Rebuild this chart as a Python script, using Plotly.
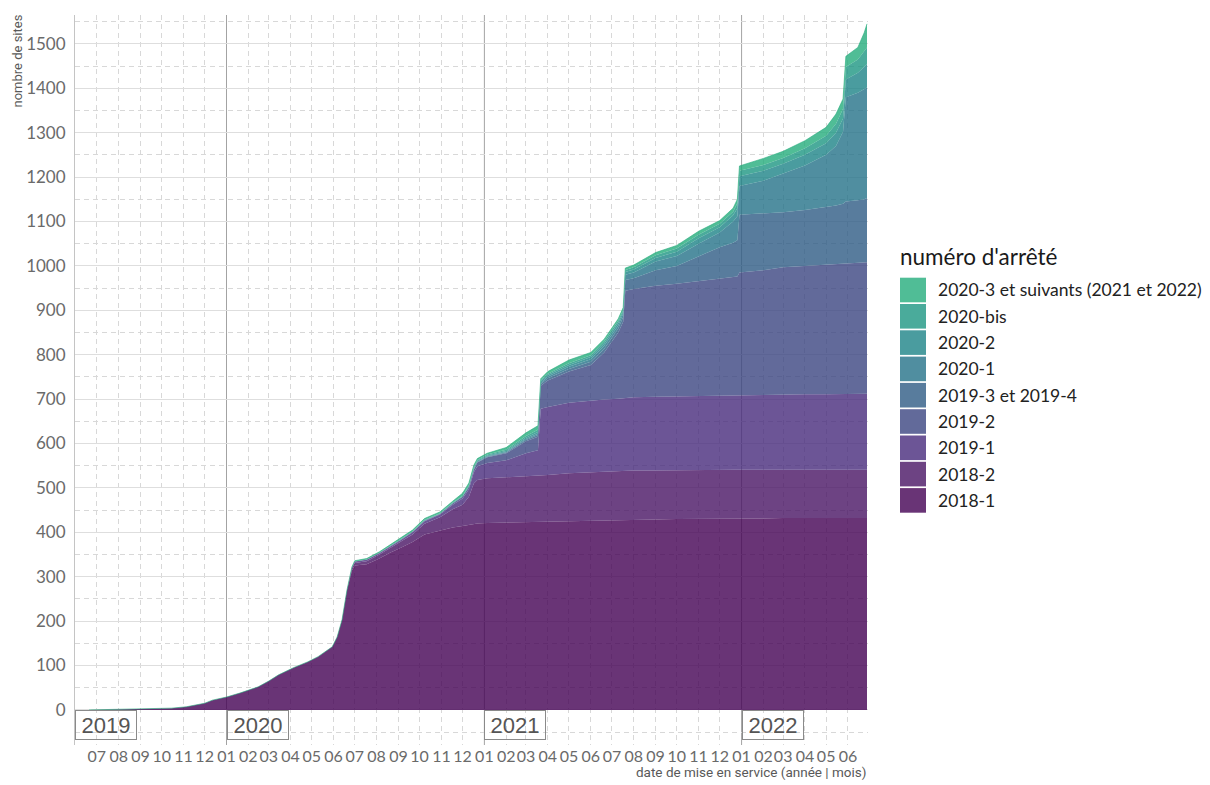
import plotly.graph_objects as go

# ---------------- data ----------------
dates = [
    "2019-06-20", "2019-08-01", "2019-09-15", "2019-10-15", "2019-11-05", "2019-12-01", "2019-12-12",
    "2020-01-01", "2020-01-20", "2020-02-15", "2020-03-01", "2020-03-15", "2020-04-05", "2020-04-25",
    "2020-05-10", "2020-05-30", "2020-06-06", "2020-06-13", "2020-06-20", "2020-06-27", "2020-07-01",
    "2020-07-18", "2020-08-05", "2020-08-20", "2020-09-03", "2020-09-21", "2020-10-08", "2020-10-30",
    "2020-11-17", "2020-12-01", "2020-12-10", "2020-12-17", "2020-12-22", "2021-01-05", "2021-02-01",
    "2021-03-01", "2021-03-18", "2021-03-22", "2021-04-01", "2021-05-01", "2021-06-01", "2021-06-20",
    "2021-07-10", "2021-07-17", "2021-07-20", "2021-08-01", "2021-09-01", "2021-10-01", "2021-11-01",
    "2021-12-01", "2021-12-20", "2021-12-26", "2021-12-29", "2022-02-01", "2022-03-01", "2022-04-01",
    "2022-05-01", "2022-05-15", "2022-05-25", "2022-05-29", "2022-06-15", "2022-06-24", "2022-06-28",
]

# cumulative number of sites (all arrêtés) before the other arrêtés appear
early = [0, 1, 2, 4, 7, 15, 22, 29, 38, 52, 65, 79, 95, 108, 120, 142, 164, 203, 270]

# cumulative top of each band (sites of this arrêté and all earlier ones)
cum_2018_1 = early + [314, 325, 328, 341, 354, 364, 378, 395, 404, 411, 414, 417, 419, 420, 421, 422,
                      423, 424, 424, 425, 426, 427, 427, 428, 428, 428, 429, 429, 430, 430, 431, 431,
                      431, 431, 431, 432, 432, 432, 432, 432, 432, 432, 432, 432]
cum_2018_2 = early + [319, 331, 335, 350, 364, 377, 395, 419, 434, 452, 462, 480, 510, 518, 522, 524,
                      526, 527, 528, 529, 533, 535, 536, 537, 538, 538, 539, 539, 540, 540, 541, 541,
                      541, 541, 541, 541, 541, 541, 541, 541, 541, 541, 541, 541]
cum_2019_1 = early + [321, 334, 338, 353, 367, 381, 400, 425, 440, 462, 476, 497, 535, 549, 556, 562,
                      578, 585, 678, 682, 692, 697, 699, 701, 702, 703, 704, 705, 706, 707, 708, 709,
                      709, 709, 710, 710, 711, 711, 711, 711, 712, 712, 712, 712]
cum_2019_2 = early + [321, 334, 339, 354, 368, 382, 401, 426, 441, 465, 480, 502, 541, 557, 569, 578,
                      605, 615, 730, 742, 762, 777, 805, 850, 874, 944, 948, 955, 960, 966, 972, 975,
                      976, 985, 990, 997, 1000, 1002, 1003, 1004, 1005, 1006, 1007, 1008]
cum_2019_34 = early + [321, 334, 339, 354, 368, 382, 401, 426, 441, 465, 480, 502, 542, 558, 570, 580,
                       608, 619, 734, 747, 768, 784, 813, 859, 885, 968, 972, 990, 1000, 1022, 1042, 1052,
                       1058, 1115, 1118, 1121, 1126, 1132, 1136, 1140, 1145, 1148, 1150, 1153]
cum_2020_1 = early + [321, 334, 339, 354, 368, 382, 401, 426, 441, 465, 480, 503, 543, 559, 571, 581,
                      610, 622, 737, 751, 773, 790, 820, 866, 893, 980, 985, 1010, 1022, 1050, 1075, 1100,
                      1112, 1180, 1192, 1208, 1226, 1250, 1270, 1302, 1380, 1390, 1398, 1402]
cum_2020_2 = early + [321, 334, 339, 354, 368, 382, 401, 427, 442, 466, 481, 504, 545, 561, 573, 583,
                      613, 626, 740, 754, 777, 795, 825, 872, 898, 986, 992, 1018, 1032, 1062, 1087, 1114,
                      1130, 1202, 1214, 1230, 1250, 1276, 1300, 1332, 1420, 1435, 1448, 1455]
cum_2020_bis = early + [321, 334, 339, 354, 369, 383, 402, 428, 443, 467, 482, 506, 547, 563, 575, 586,
                        617, 631, 743, 757, 781, 799, 830, 877, 902, 991, 997, 1024, 1039, 1070, 1095, 1122,
                        1141, 1214, 1227, 1243, 1265, 1293, 1320, 1354, 1448, 1465, 1482, 1492]
cum_2020_3 = early + [322, 336, 341, 356, 371, 386, 405, 431, 446, 470, 488, 511, 551, 566, 578, 591,
                      624, 640, 746, 762, 788, 805, 835, 881, 906, 995, 1002, 1030, 1046, 1078, 1102, 1130,
                      1150, 1225, 1242, 1258, 1282, 1312, 1342, 1376, 1472, 1492, 1525, 1545]

series_names = ["2018-1", "2018-2", "2019-1", "2019-2", "2019-3 et 2019-4",
                "2020-1", "2020-2", "2020-bis", "2020-3 et suivants (2021 et 2022)"]
series_values = [cum_2018_1, cum_2018_2, cum_2019_1, cum_2019_2, cum_2019_34,
                 cum_2020_1, cum_2020_2, cum_2020_bis, cum_2020_3]

y_ticks = list(range(0, 1501, 100))
month_ticks = []
month_labels = []
for yr in (2019, 2020, 2021, 2022):
    for m in range(1, 13):
        if (yr == 2019 and m < 7) or (yr == 2022 and m > 6):
            continue
        month_ticks.append(f"{yr}-{m:02d}-01")
        month_labels.append(f"{m:02d}")
year_starts = ["2020-01-01", "2021-01-01", "2022-01-01"]
year_labels = ["2019", "2020", "2021", "2022"]

# ---------------- styling ----------------
ALPHA = 0.8
base_rgb = [(68, 1, 84), (72, 20, 100), (71, 43, 124), (59, 69, 129), (46, 91, 132),
            (36, 114, 136), (29, 131, 135), (29, 150, 130), (36, 172, 124)]
fills = [f"rgba({r},{g},{b},{ALPHA})" for r, g, b in base_rgb]

OFF = 8  # page body margin
W, H = 1210 - OFF, 785 - OFF
# plot area in page pixels: x 75..868, y 15..745
L, T = 75 - OFF, 15 - OFF
R, B = W - (868 - OFF), H - (745 - OFF)
PW, PH = W - L - R, H - T - B
X0, X1 = "2019-05-31", "2022-06-29 10:00"
Y0, Y1 = -79, 1565


def px_x(p):
    return (p - OFF - L) / PW


def px_y(p):
    return (H - B - (p - OFF)) / PH


fig = go.Figure()
for i, (name, ys, col) in enumerate(zip(series_names, series_values, fills)):
    top = i == len(series_names) - 1
    fig.add_trace(go.Scatter(
        x=dates, y=ys, name=name, mode="lines",
        line=dict(width=1 if top else 0, color=f"rgba({base_rgb[i][0]},{base_rgb[i][1]},{base_rgb[i][2]},0.6)"),
        fill="tozeroy" if i == 0 else "tonexty", fillcolor=col,
        showlegend=False, hoverinfo="skip",
    ))

grid_col = "#d8d8d8"
minor_month_lines = ["2019-06-01"] + [d for d in month_ticks if d not in year_starts]
fig.update_layout(
    width=W, height=H, margin=dict(l=L, r=R, t=T, b=B),
    plot_bgcolor="white", paper_bgcolor="white", showlegend=False,
    font=dict(family="Lato", color="#666666"),
)
fig.update_xaxes(
    range=[X0, X1], type="date", tickmode="array", tickvals=month_ticks, ticktext=month_labels,
    tickangle=0, tickfont=dict(size=16, color="#6a6a6a"), ticks="",
    showgrid=False,
    minor=dict(tickvals=minor_month_lines, showgrid=True, gridcolor=grid_col,
               griddash="5px,4px", gridwidth=1, ticks=""),
    zeroline=False, showline=False, automargin=False,
)
fig.update_yaxes(
    range=[Y0, Y1], tickmode="array", tickvals=y_ticks,
    tickfont=dict(size=17, color="#6a6a6a"), ticks="outside", ticklen=5, tickcolor="rgba(0,0,0,0)",
    showgrid=True, gridcolor="#dedede", gridwidth=1.2,
    minor=dict(tickvals=list(range(-50, 1551, 100)), showgrid=True, gridcolor=grid_col,
               griddash="5px,4px", gridwidth=1),
    zeroline=False, showline=True, linecolor="#c4c4c4", linewidth=1, automargin=False,
)

# solid year lines
for yr in year_starts:
    fig.add_shape(type="line", xref="x", yref="paper", x0=yr, x1=yr, y0=0, y1=1,
                  line=dict(color="#a3a3a3", width=1), layer="below")

# year boxes
year_pos = [X0] + year_starts
for txt, xs in zip(year_labels, year_pos):
    fig.add_annotation(x=xs, y=0, xref="x", yref="y", xanchor="left", yanchor="top",
                       text=txt, showarrow=False, width=58, height=26, align="center",
                       font=dict(family="Liberation Sans", size=22, color="#555555"),
                       bordercolor="#8a8a8a", borderwidth=1, borderpad=1,
                       bgcolor="rgba(0,0,0,0)")

# axis titles
fig.add_annotation(x=px_x(17), y=px_y(13), xref="paper", yref="paper", xanchor="center", yanchor="top",
                   text="nombre de sites", textangle=-90, showarrow=False,
                   font=dict(family="Roboto", size=13, color="#595959"))
fig.add_annotation(x=1.0, y=px_y(772), xref="paper", yref="paper", xanchor="right", yanchor="middle",
                   text="date de mise en service (année | mois)", showarrow=False,
                   font=dict(family="Roboto", size=13.5, color="#595959"))

# legend (drawn manually: title, square keys, labels)
fig.add_annotation(x=px_x(898), y=px_y(257), xref="paper", yref="paper", xanchor="left", yanchor="middle",
                   text="numéro d'arrêté", showarrow=False,
                   font=dict(family="Lato", size=22.5, color="#1a1a1a"))
pitch = 26.3
for k, idx in enumerate(range(len(series_names) - 1, -1, -1)):
    cy = 290 + k * pitch
    fig.add_shape(type="rect", xref="paper", yref="paper",
                  x0=px_x(900), x1=px_x(926), y0=px_y(cy + 12.3), y1=px_y(cy - 12.3),
                  fillcolor=fills[idx], line=dict(width=0))
    fig.add_annotation(x=px_x(936), y=px_y(cy), xref="paper", yref="paper", xanchor="left",
                       yanchor="middle", text=series_names[idx], showarrow=False,
                       font=dict(family="Lato", size=17.5, color="#222222"))

fig.write_html("out.html")
